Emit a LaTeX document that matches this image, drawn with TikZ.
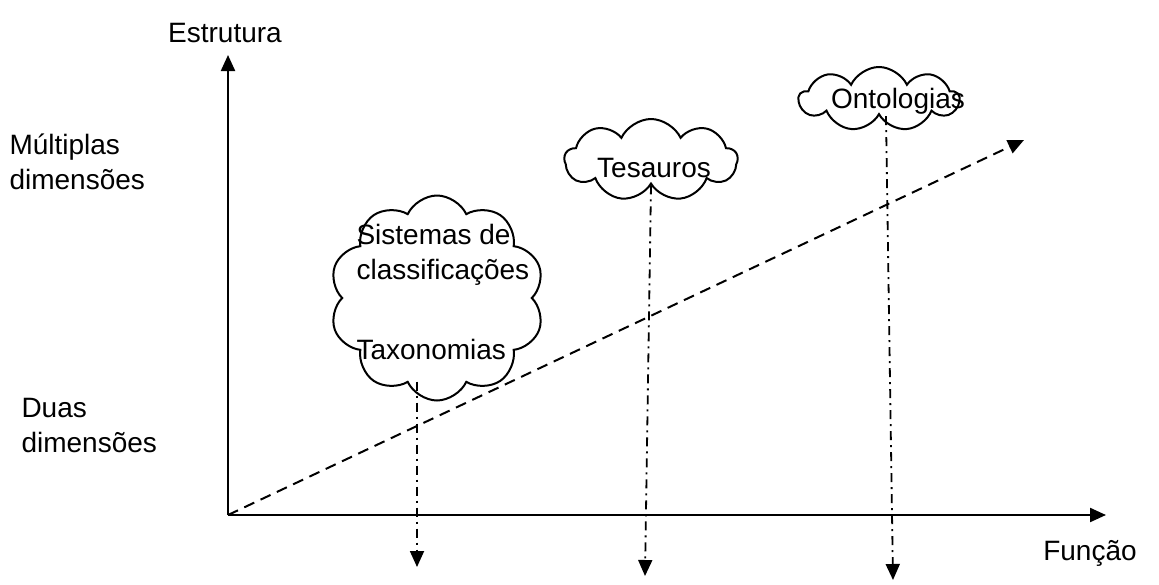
\documentclass[tikz,border=0pt]{standalone}
\usepackage{fontspec}
\setmainfont{Liberation Sans}
\usetikzlibrary{shapes.symbols, arrows.meta, positioning}

\begin{document}
\begin{tikzpicture}[
        >={Triangle[length=16pt,width=14pt]},
        x=1pt,
        y=-1pt,
        every node/.style={font=\fontsize{28}{35}\selectfont},
        axis/.style={->, line width=2.2pt},
        trend/.style={->, line width=2pt, dash pattern=on 11pt off 7pt},
        drop/.style={->, line width=1.8pt, dash pattern=on 9pt off 5pt on 2pt off 5pt},
        bubble/.style={cloud, draw, line width=2pt, cloud puffs=10, cloud puff arc=130, cloud ignores aspect, inner sep=0pt}
    ]
    \useasboundingbox (0,0) rectangle (1159,584);

    % axes
    \coordinate (o) at (228,515);
    \coordinate (ytop) at (228,55);
    \coordinate (xend) at (1106,515);
    \coordinate (diag) at (1024,140);
    \draw[axis] (o) -- (ytop);
    \draw[axis] (o) -- (xend);
    \draw[trend] (o) -- (diag);

    \node (estr) at (225,33) {Estrutura};
    \node (func) at (1090,553) {Função};
    \node[anchor=west, align=left] (multi) at (6,162) {Múltiplas\\dimensões};
    \node[anchor=west, align=left] (duas) at (18,425) {Duas\\dimensões};

    % clouds
    \node[bubble, minimum width=215pt, minimum height=205pt] (cls) at (437,298) {};
    \node[anchor=west, align=left] (clstext) at (353,292) {Sistemas de\\classificações\\[45pt]Taxonomias};
    \node[bubble, cloud puffs=9, minimum width=173pt, minimum height=82pt] (tes) at (651,160) {};
    \node (testext) at (654,168) {Tesauros};
    \node[bubble, cloud puffs=9, minimum width=160pt, minimum height=64pt] (ont) at (879,99) {};
    \node (onttext) at (898,101) {Ontologias};

    % drops
    \coordinate (d1) at (417,567);
    \coordinate (d2) at (645,576);
    \coordinate (d3) at (893,580);
    \draw[drop] ([xshift=-20pt, yshift=20pt]cls.south) -- (d1);
    \draw[drop] (tes.south) -- (d2);
    \draw[drop] ([xshift=7pt]ont.south) -- (d3);
\end{tikzpicture}
\end{document}
